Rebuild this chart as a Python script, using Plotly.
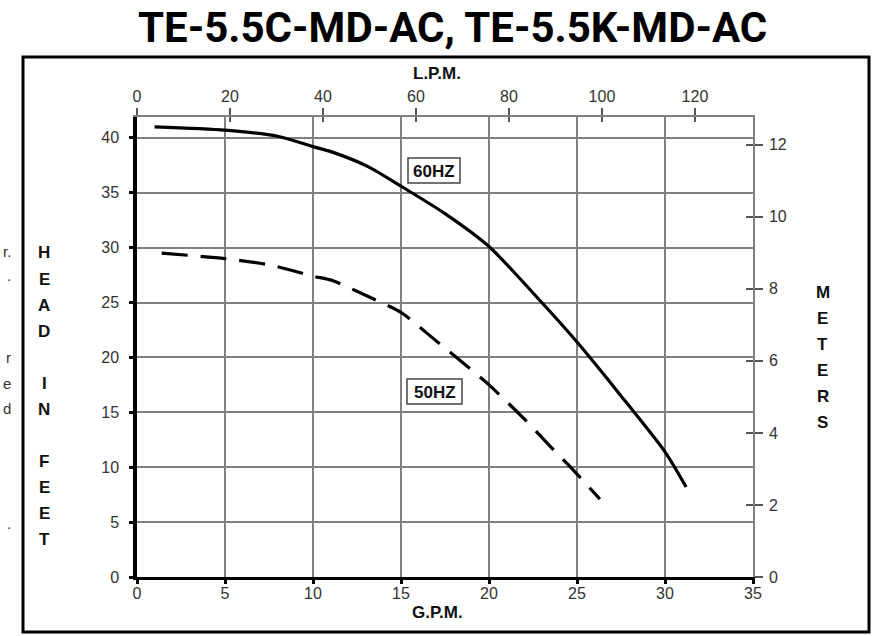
import plotly.graph_objects as go

# ---- data ----
gpm_60 = [1.0, 5.0, 8.0, 10.0, 11.1, 13.1, 15.0, 17.5, 20.0, 23.0, 25.0, 27.4, 30.0, 31.2]
head_60 = [41.0, 40.7, 40.15, 39.2, 38.7, 37.4, 35.6, 33.1, 30.1, 25.0, 21.4, 16.7, 11.4, 8.2]
gpm_50 = [1.4, 5.0, 7.6, 10.0, 11.1, 13.2, 15.0, 17.0, 18.0, 20.0, 22.0, 23.6, 24.7, 26.3]
head_50 = [29.5, 29.0, 28.4, 27.4, 27.0, 25.5, 24.1, 21.5, 20.2, 17.5, 14.4, 11.7, 9.9, 7.1]

gpm_ticks = [0, 5, 10, 15, 20, 25, 30, 35]
feet_ticks = [0, 5, 10, 15, 20, 25, 30, 35, 40]
lpm_ticks = [0, 20, 40, 60, 80, 100, 120]
meter_ticks = [0, 2, 4, 6, 8, 10, 12]
series_labels = ["60HZ", "50HZ"]
title_text = "TE-5.5C-MD-AC, TE-5.5K-MD-AC"
left_title = "HEAD IN FEET"
right_title = "METERS"
edge_fragments = ["r.", ".", "r", "e", "d", "."]

GPM_MAX = 35
FT_MAX = 41.9
LPM_PER_GPM = 3.78541
M_PER_FT = 0.3048

W, H = 873, 636
L, R, T, B = 137, 120, 117, 59
PW, PH = W - L - R, H - T - B


def xp(px):
    return (px - L) / PW


def yp(py):
    return (H - B - py) / PH


fig = go.Figure()
fig.add_trace(go.Scatter(x=gpm_60, y=head_60, mode="lines",
                         line=dict(color="black", width=3.2, shape="spline", smoothing=0.7),
                         showlegend=False, hoverinfo="skip"))
fig.add_trace(go.Scatter(x=gpm_50, y=head_50, mode="lines",
                         line=dict(color="black", width=3.2, dash="26px,13px", shape="spline", smoothing=0.7),
                         showlegend=False, hoverinfo="skip"))

tickfont = dict(family="Liberation Sans, Arial", size=16, color="#333")
grid = "#808080"

fig.update_layout(
    width=W, height=H,
    margin=dict(l=L, r=R, t=T, b=B, pad=0),
    paper_bgcolor="white", plot_bgcolor="white",
    xaxis=dict(range=[0, GPM_MAX], tickvals=gpm_ticks, showgrid=True, gridcolor=grid, gridwidth=1.5,
               showline=True, linecolor="black", linewidth=3, ticks="outside", ticklen=4, tickwidth=2.5,
               tickcolor="black", tickfont=tickfont, zeroline=False, fixedrange=True, ticklabelstandoff=-4),
    yaxis=dict(range=[0, FT_MAX], tickvals=feet_ticks, showgrid=True, gridcolor=grid, gridwidth=1.5,
               showline=True, linecolor="black", linewidth=3.5, ticks="outside", ticklen=4, tickwidth=3,
               tickcolor="black", tickfont=tickfont, zeroline=False, fixedrange=True, ticklabelstandoff=7),
    xaxis2=dict(range=[0, GPM_MAX * LPM_PER_GPM], tickvals=lpm_ticks, overlaying="x", side="top", anchor="y",
                showgrid=False, showline=True, linecolor=grid, linewidth=1.5, ticks="outside", ticklen=7,
                tickwidth=1.5, tickcolor="#555", tickfont=tickfont, zeroline=False, fixedrange=True),
    xaxis3=dict(range=[0, GPM_MAX * LPM_PER_GPM], tickvals=lpm_ticks, overlaying="x", side="top", anchor="y",
                showgrid=False, showline=False, ticks="inside", ticklen=5, tickwidth=1.5, tickcolor="#555",
                showticklabels=False, zeroline=False, fixedrange=True),
    yaxis2=dict(range=[0, FT_MAX * M_PER_FT], tickvals=meter_ticks, overlaying="y", side="right", anchor="x",
                showgrid=False, showline=True, linecolor=grid, linewidth=1.5, ticks="outside", ticklen=8,
                tickwidth=1.5, tickcolor="#555", tickfont=tickfont, zeroline=False, fixedrange=True,
                ticklabelstandoff=3),
    yaxis3=dict(range=[0, FT_MAX * M_PER_FT], tickvals=meter_ticks, overlaying="y", side="right", anchor="x",
                showgrid=False, showline=False, ticks="inside", ticklen=7, tickwidth=1.5, tickcolor="#555",
                showticklabels=False, zeroline=False, fixedrange=True),
)

# placeholder traces so the overlay axes render
fig.add_trace(go.Scatter(x=[None], y=[None], xaxis="x2", yaxis="y2", showlegend=False, hoverinfo="skip"))
fig.add_trace(go.Scatter(x=[None], y=[None], xaxis="x3", yaxis="y3", showlegend=False, hoverinfo="skip"))

ann = []
shapes = []
bold = dict(family="Liberation Sans, Arial", size=17, color="#111")

# Title
ann.append(dict(text="<b>" + title_text + "</b>", x=xp(452.5), y=yp(27), xref="paper", yref="paper",
                showarrow=False, xanchor="center", yanchor="middle",
                font=dict(family="Roboto", size=42, color="black")))
# axis titles
ann.append(dict(text="<b>L.P.M.</b>", x=xp(437), y=yp(73), xref="paper", yref="paper", showarrow=False,
                xanchor="center", yanchor="middle", font=bold))
ann.append(dict(text="<b>G.P.M.</b>", x=xp(437), y=yp(612), xref="paper", yref="paper", showarrow=False,
                xanchor="center", yanchor="middle", font=bold))
# stacked vertical letters
lpos = 253
for ch in left_title:
    if ch != " ":
        ann.append(dict(text="<b>" + ch + "</b>", x=xp(44), y=yp(lpos), xref="paper", yref="paper",
                        showarrow=False, xanchor="center", yanchor="middle", font=bold))
    lpos += 26
rpos = 292
for ch in right_title:
    ann.append(dict(text="<b>" + ch + "</b>", x=xp(823), y=yp(rpos), xref="paper", yref="paper",
                    showarrow=False, xanchor="center", yanchor="middle", font=bold))
    rpos += 26.2

# series labels with boxes
for lab, (x0, y0, x1, y1) in zip(series_labels, [(408, 158, 460, 183), (407, 379, 462, 404)]):
    shapes.append(dict(type="rect", xref="paper", yref="paper", x0=xp(x0), x1=xp(x1), y0=yp(y1), y1=yp(y0),
                       line=dict(color="#444", width=1.5), fillcolor="white", layer="above"))
    ann.append(dict(text="<b>" + lab + "</b>", x=xp((x0 + x1) / 2), y=yp((y0 + y1) / 2 + 0.5), xref="paper",
                    yref="paper", showarrow=False, xanchor="center", yanchor="middle",
                    font=dict(family="Liberation Sans, Arial", size=17, color="#111")))

# cropped neighbouring text fragments at the left edge
for txt, py in zip(edge_fragments, [251, 275, 357, 383, 408, 523]):
    ann.append(dict(text=txt, x=xp(13), y=yp(py), xref="paper", yref="paper", showarrow=False,
                    xanchor="right", yanchor="middle",
                    font=dict(family="Liberation Sans, Arial", size=15, color="#333")))

# outer frame
shapes.append(dict(type="rect", xref="paper", yref="paper", x0=xp(23), x1=xp(869), y0=yp(632), y1=yp(57),
                   line=dict(color="black", width=3), fillcolor="rgba(0,0,0,0)", layer="above"))

fig.update_layout(annotations=ann, shapes=shapes)
fig.write_html("out.html", config={"displayModeBar": False},
               post_script="document.body.style.margin='0';document.body.style.overflow='hidden';")
